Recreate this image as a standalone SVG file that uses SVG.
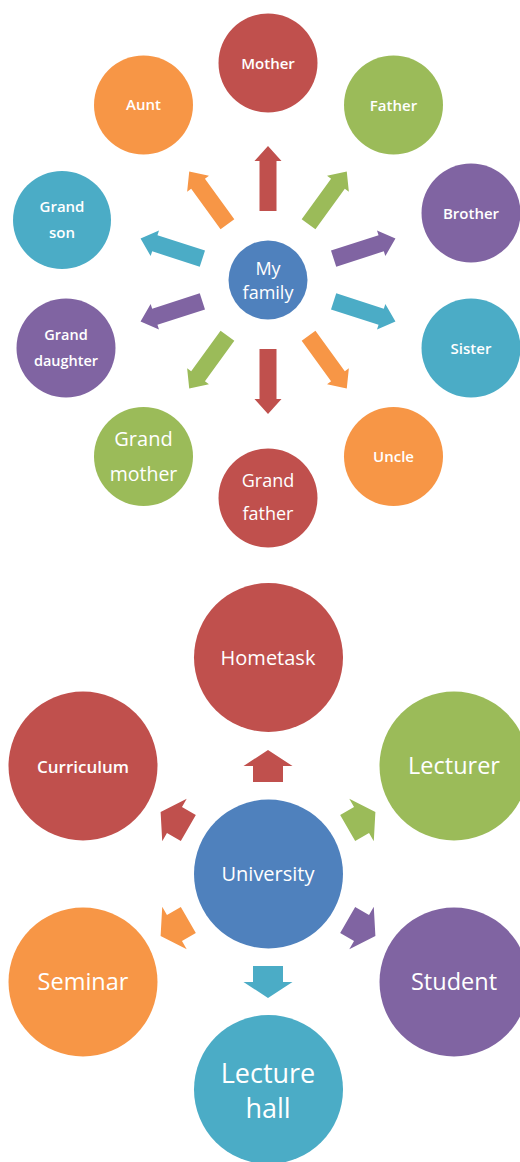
<svg xmlns="http://www.w3.org/2000/svg" xmlns:xlink="http://www.w3.org/1999/xlink" width="520" height="1162" viewBox="0 0 520 1162">
<style>
.red{fill:#C0504D}.org{fill:#F79646}.grn{fill:#9BBB59}.pur{fill:#8064A2}.tea{fill:#4BACC6}.blu{fill:#4F81BD}
text{fill:#FFFFFF;font-family:"Open Sans","Noto Sans",sans-serif;text-anchor:middle;dominant-baseline:central}
.s{font-size:15px;font-weight:600}
.s2{font-size:14.5px;font-weight:600}
</style>
<defs>
<polygon id="a1" points="69,-8.5 119,-8.5 119,-13.5 134,0 119,13.5 119,8.5 69,8.5"/>
<polygon id="a2" points="92,-15 108,-15 108,-24.5 124,0 108,24.5 108,15 92,15"/>
</defs>
<g id="connectors">
<g transform="translate(268,280)">
<use xlink:href="#a1" class="red" transform="rotate(-90)"/>
<use xlink:href="#a1" class="grn" transform="rotate(-54)"/>
<use xlink:href="#a1" class="pur" transform="rotate(-18)"/>
<use xlink:href="#a1" class="tea" transform="rotate(18)"/>
<use xlink:href="#a1" class="org" transform="rotate(54)"/>
<use xlink:href="#a1" class="red" transform="rotate(90)"/>
<use xlink:href="#a1" class="grn" transform="rotate(126)"/>
<use xlink:href="#a1" class="pur" transform="rotate(162)"/>
<use xlink:href="#a1" class="tea" transform="rotate(198)"/>
<use xlink:href="#a1" class="org" transform="rotate(234)"/>
</g>
<g transform="translate(268,874)">
<use xlink:href="#a2" class="red" transform="rotate(-90)"/>
<use xlink:href="#a2" class="grn" transform="rotate(-30)"/>
<use xlink:href="#a2" class="pur" transform="rotate(30)"/>
<use xlink:href="#a2" class="tea" transform="rotate(90)"/>
<use xlink:href="#a2" class="org" transform="rotate(150)"/>
<use xlink:href="#a2" class="red" transform="rotate(210)"/>
</g>
</g>
<g id="myfamily"><circle class="blu" cx="268" cy="280" r="39.5"/><text x="268" y="268" style="font-size:18px">My</text><text x="268" y="292" style="font-size:18px">family</text></g>
<g id="mother"><circle class="red" cx="268" cy="63" r="49.5"/><text class="s" x="268" y="63">Mother</text></g>
<g id="aunt"><circle class="org" cx="143.5" cy="105" r="49.5"/><text class="s" x="143.5" y="104">Aunt</text></g>
<g id="father"><circle class="grn" cx="393.5" cy="105" r="49.5"/><text class="s" x="393.5" y="104.5">Father</text></g>
<g id="brother"><circle class="pur" cx="471" cy="213" r="49.5"/><text class="s" x="471" y="213">Brother</text></g>
<g id="grandson"><circle class="tea" cx="62" cy="220" r="49"/><text class="s" x="62" y="206">Grand</text><text class="s" x="62" y="232">son</text></g>
<g id="granddaughter"><circle class="pur" cx="66" cy="348" r="49.5"/><text class="s2" x="66" y="334">Grand</text><text class="s2" x="66" y="360">daughter</text></g>
<g id="sister"><circle class="tea" cx="471" cy="348" r="49.5"/><text class="s" x="471" y="348">Sister</text></g>
<g id="grandmother"><circle class="grn" cx="143.5" cy="456.5" r="49.5"/><text x="143.5" y="438" style="font-size:20px">Grand</text><text x="143.5" y="473" style="font-size:19.5px">mother</text></g>
<g id="uncle"><circle class="org" cx="393.5" cy="456.5" r="49.5"/><text class="s" x="393.5" y="456">Uncle</text></g>
<g id="grandfather"><circle class="red" cx="268" cy="498" r="49.5"/><text x="268" y="480" style="font-size:18px">Grand</text><text x="268" y="513" style="font-size:18px">father</text></g>
<g id="hometask"><circle class="red" cx="268.5" cy="657.5" r="74.5"/><text x="268" y="657" style="font-size:20px">Hometask</text></g>
<g id="curriculum"><circle class="red" cx="83" cy="766" r="74.5"/><text x="83" y="766" style="font-size:17px;font-weight:600">Curriculum</text></g>
<g id="lecturer"><circle class="grn" cx="454" cy="766" r="74.5"/><text x="454" y="765" style="font-size:23.5px">Lecturer</text></g>
<g id="university"><circle class="blu" cx="268.5" cy="874" r="74.5"/><text x="268" y="873" style="font-size:20px">University</text></g>
<g id="seminar"><circle class="org" cx="83" cy="982" r="74.5"/><text x="83" y="981" style="font-size:23.5px">Seminar</text></g>
<g id="student"><circle class="pur" cx="454" cy="982" r="74.5"/><text x="454" y="981" style="font-size:23.5px">Student</text></g>
<g id="lecturehall"><circle class="tea" cx="268.5" cy="1089.5" r="74.5"/><text x="268" y="1072" style="font-size:27px">Lecture</text><text x="268" y="1107" style="font-size:27px">hall</text></g>
</svg>
